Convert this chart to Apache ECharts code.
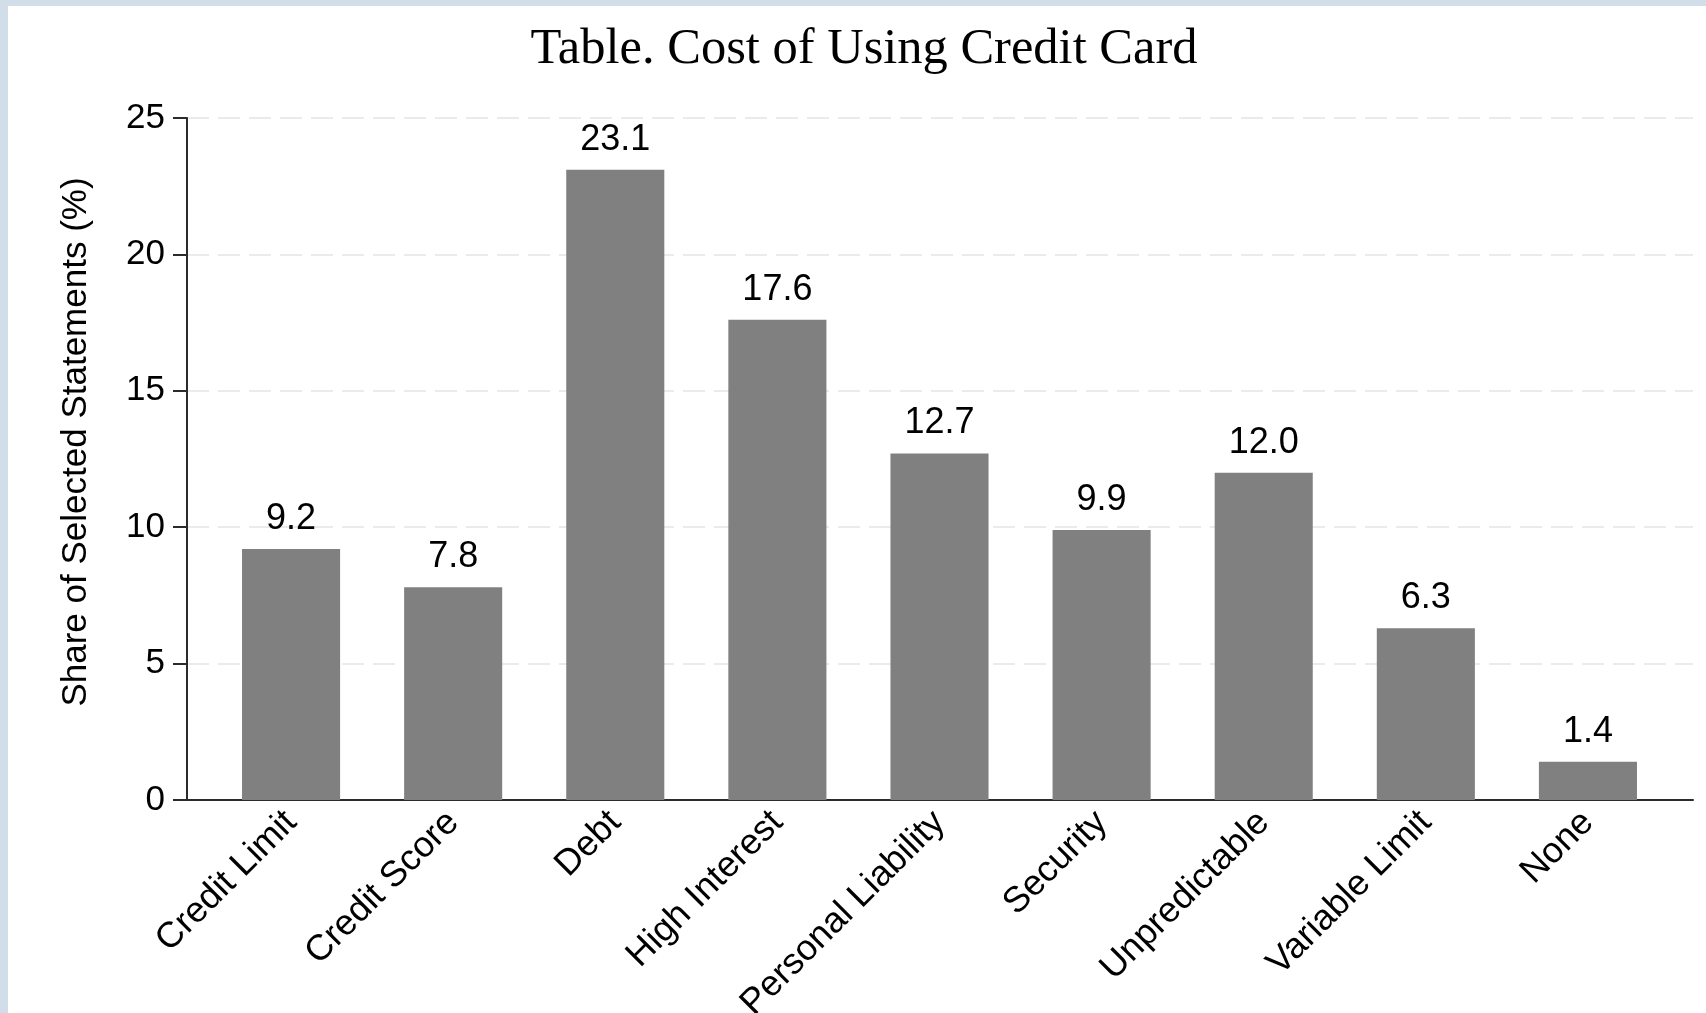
<!DOCTYPE html>
<html>
<head>
<meta charset="utf-8">
<script src="https://cdn.jsdelivr.net/npm/echarts@6/dist/echarts.min.js"></script>
<style>
  html, body { margin: 0; padding: 0; width: 1706px; height: 1013px; background: #d1dee9; overflow: hidden; }
  #chart { position: absolute; left: 8px; top: 6px; width: 1698px; height: 1007px; background: #ffffff; }
</style>
</head>
<body>
<div id="chart"></div>
<script>
const titleText = 'Table. Cost of Using Credit Card';
const yAxisTitle = 'Share of Selected Statements (%)';
const categories = ['Credit Limit', 'Credit Score', 'Debt', 'High Interest', 'Personal Liability', 'Security', 'Unpredictable', 'Variable Limit', 'None'];
const shares = [9.2, 7.8, 23.1, 17.6, 12.7, 9.9, 12.0, 6.3, 1.4];
const yTicks = [0, 5, 10, 15, 20, 25];

const chart = echarts.init(document.getElementById('chart'), null, { renderer: 'canvas' });
const sans = '"Liberation Sans", Arial, sans-serif';
const yMin = yTicks[0], yMax = yTicks[yTicks.length - 1], yStep = yTicks[1] - yTicks[0];

chart.setOption({
  backgroundColor: '#ffffff',
  animation: false,
  title: {
    text: titleText,
    left: 851,
    textAlign: 'center',
    top: 13,
    textStyle: { fontFamily: '"Liberation Serif", "Times New Roman", serif', fontWeight: 'normal', fontSize: 50.5, color: '#000000' }
  },
  grid: [
    { left: 179, right: 13, top: 112, bottom: 213, containLabel: false, outerBoundsMode: 'none' },
    { left: 202, right: 37, top: 112, bottom: 213, containLabel: false, outerBoundsMode: 'none' }
  ],
  xAxis: [
    {
      gridIndex: 0, type: 'category', data: categories, boundaryGap: true,
      axisLine: { show: true, onZero: true, lineStyle: { color: '#2b2b2b', width: 2 } },
      axisTick: { show: false }, axisLabel: { show: false }, splitLine: { show: false }
    },
    {
      gridIndex: 1, type: 'category', data: categories, boundaryGap: true,
      axisLine: { show: false }, axisTick: { show: false },
      axisLabel: {
        rotate: 45, margin: 17, fontFamily: sans, fontSize: 36, color: '#000000', interval: 0,
        padding: [0, 0, 0, 0]
      }
    }
  ],
  yAxis: [
    {
      gridIndex: 0, type: 'value', min: yMin, max: yMax, interval: yStep,
      name: yAxisTitle, nameLocation: 'middle', nameGap: 93,
      nameTextStyle: { fontFamily: sans, fontSize: 35, color: '#000000', padding: [0, 0, 0, 34] },
      axisLine: { show: true, lineStyle: { color: '#2b2b2b', width: 2 } },
      axisTick: { show: true, length: 14, lineStyle: { color: '#2b2b2b', width: 2 } },
      axisLabel: { fontFamily: sans, fontSize: 35, color: '#000000', margin: 22 },
      splitLine: { show: true, lineStyle: { color: '#ebebeb', width: 2, type: [22, 9] } }
    },
    {
      gridIndex: 1, type: 'value', min: yMin, max: yMax, interval: yStep,
      axisLine: { show: false }, axisTick: { show: false }, axisLabel: { show: false }, splitLine: { show: false }
    }
  ],
  series: [
    {
      type: 'bar', xAxisIndex: 1, yAxisIndex: 1, data: shares, barWidth: '60.5%',
      itemStyle: { color: '#808080' },
      label: {
        show: true, position: 'top', distance: 12,
        formatter: p => p.value.toFixed(1),
        fontFamily: sans, fontSize: 36, color: '#000000'
      }
    }
  ]
});
</script>
</body>
</html>
